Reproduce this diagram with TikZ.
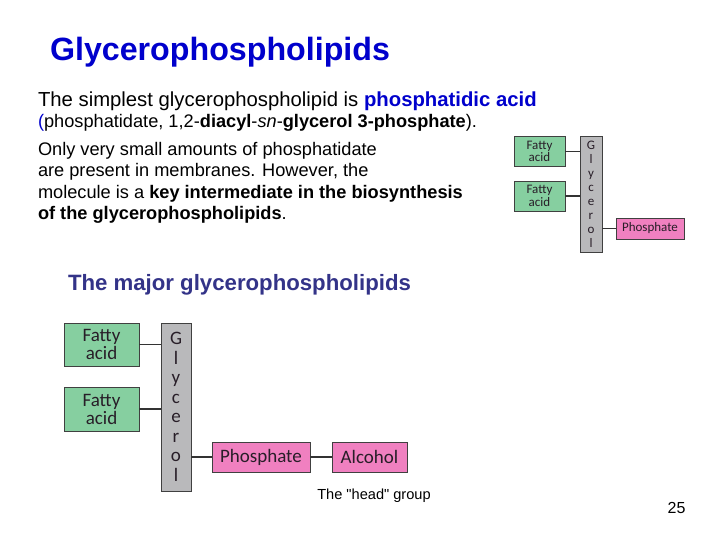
\documentclass[tikz,border=0pt]{standalone}
\usepackage{fontspec}
\setmainfont{Liberation Sans}
\newfontfamily\boxfont{Carlito}
\definecolor{titleblue}{RGB}{0,0,204}
\definecolor{subblue}{RGB}{51,51,136}
\definecolor{fagreen}{RGB}{134,207,160}
\definecolor{phpink}{RGB}{240,128,192}
\definecolor{glygray}{RGB}{185,185,187}
\definecolor{boxline}{RGB}{64,64,64}
\definecolor{boxtext}{RGB}{40,30,40}
\tikzset{
  every node/.style={inner sep=0pt, outer sep=0pt},
  txt/.style={anchor=base west, text=black},
  fabox/.style={draw=boxline, fill=fagreen, line width=0.8pt, align=center, text=boxtext},
  glybox/.style={draw=boxline, fill=glygray, line width=0.8pt, align=center, text=boxtext},
  phbox/.style={draw=boxline, fill=phpink, line width=0.8pt, align=center, text=boxtext},
  bond/.style={draw=boxline!80!black, line width=1.8pt}
}
\begin{document}
\begin{tikzpicture}[x=1pt, y=-1pt]
	\useasboundingbox (0,0) rectangle (728,546);
	
	% title and text
	\node[txt, text=titleblue, font=\fontsize{32.2}{36}\selectfont\bfseries] (title) at (50,60) {Glycerophospholipids};
	\node[txt, font=\fontsize{20.3}{24}\selectfont] (line1) at (38,106) {The simplest glycerophospholipid is \textbf{\textcolor{titleblue}{phosphatidic acid}}};
	\node[txt, font=\fontsize{18.2}{21}\selectfont] (line2) at (38,127) {\textcolor{titleblue}{(}phosphatidate, 1,2-\textbf{diacyl}-\textit{sn}-\textbf{glycerol 3-phosphate}).};
	\node[txt, font=\fontsize{18.2}{21}\selectfont] (line3) at (38,155) {Only very small amounts of phosphatidate};
	\node[txt, font=\fontsize{18.2}{21}\selectfont] (line4) at (38,176) {are present in membranes. However, the};
	\node[txt, font=\fontsize{18.2}{21}\selectfont] (line5) at (38,198) {molecule is a \textbf{key intermediate in the biosynthesis}};
	\node[txt, font=\fontsize{18.2}{21}\selectfont] (line6) at (38,219) {\textbf{of the glycerophospholipids}.};
	
	% small diagram
	\node[fabox, minimum width=51pt, minimum height=30pt, font=\boxfont\fontsize{13}{12.5}\selectfont] (sfa1) at (539.5,151.5) {Fatty\\acid};
	\node[fabox, minimum width=51pt, minimum height=30pt, font=\boxfont\fontsize{13}{12.5}\selectfont] (sfa2) at (539.5,196) {Fatty\\acid};
	\node[glybox, minimum width=22pt, minimum height=116pt, font=\boxfont\fontsize{13}{14}\selectfont] (sgly) at (591,194) {G\\l\\y\\c\\e\\r\\o\\l};
	\node[phbox, minimum width=68pt, minimum height=21pt, font=\boxfont\fontsize{13}{12.5}\selectfont] (sph) at (650,228.5) {Phosphate};
	\draw[bond, line width=1.2pt] (sfa1.east) -- (sfa1.east -| sgly.west);
	\draw[bond, line width=1.2pt] (sfa2.east) -- (sfa2.east -| sgly.west);
	\draw[bond, line width=1.2pt] (sph.west) -- (sph.west -| sgly.east);
	
	% major glycerophospholipids
	\node[txt, text=subblue, font=\fontsize{22.2}{26}\selectfont\bfseries] (sub) at (68,290) {The major glycerophospholipids};
	\node[fabox, minimum width=75pt, minimum height=43pt, font=\boxfont\fontsize{19}{18}\selectfont] (fa1) at (101.5,344.5) {Fatty\\acid};
	\node[fabox, minimum width=75pt, minimum height=44pt, font=\boxfont\fontsize{19}{18}\selectfont] (fa2) at (101.5,409) {Fatty\\acid};
	\node[glybox, minimum width=30pt, minimum height=168pt, font=\boxfont\fontsize{19}{19.5}\selectfont] (gly) at (176,407) {G\\l\\y\\c\\e\\r\\o\\l};
	\node[phbox, minimum width=98pt, minimum height=30pt, font=\boxfont\fontsize{19}{18}\selectfont] (ph) at (261,457) {Phosphate};
	\node[phbox, minimum width=75pt, minimum height=30pt, font=\boxfont\fontsize{19}{18}\selectfont] (alc) at (369.5,457) {Alcohol};
	\draw[bond] (fa1.east) -- (fa1.east -| gly.west);
	\draw[bond] (fa2.east) -- (fa2.east -| gly.west);
	\draw[bond] (ph.west) -- (ph.west -| gly.east);
	\draw[bond] (ph.east) -- (alc.west);
	\node[font=\fontsize{14.6}{17}\selectfont] (head) at (374,496) {The \textquotedbl head\textquotedbl{} group};
	
	\node[font=\fontsize{16}{18}\selectfont] (page) at (676.5,508) {25};
\end{tikzpicture}
\end{document}
